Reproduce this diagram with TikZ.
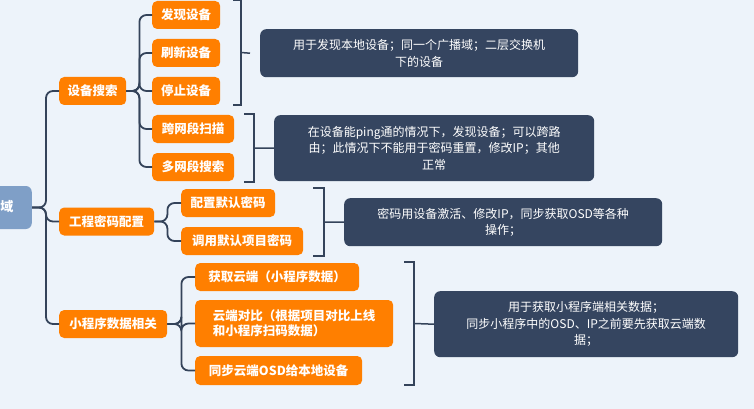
\documentclass[tikz,border=0pt]{standalone}
\usepackage{fontspec}
\setmainfont{Noto Sans CJK SC}
\begin{document}
\begin{tikzpicture}[x=1pt,y=-1pt,
  conn/.style={draw=lineC,line width=1.8pt,rounded corners=7pt},
  obox/.style={fill=orangeC,rounded corners=5pt,text=white,font=\fontsize{12.5}{15}\selectfont\bfseries,anchor=west,minimum height=28pt,inner xsep=5pt,align=left},
  dbox/.style={fill=darkC,rounded corners=6pt,text=white,font=\fontsize{12}{16.5}\selectfont,align=center,inner sep=0pt},
  brk/.style={draw=lineC,line width=1.5pt}]
\definecolor{bgC}{HTML}{EDF3FA}
\definecolor{orangeC}{HTML}{FF7F00}
\definecolor{darkC}{HTML}{354560}
\definecolor{lineC}{HTML}{34435A}
\definecolor{rootC}{HTML}{7F9FC7}
\fill[bgC] (0,0) rectangle (754,409);
\useasboundingbox (0,0) rectangle (754,409);
\begin{scope}
\clip (0,0) rectangle (754,409);
\node[fill=rootC,rounded corners=6pt,minimum width=72pt,minimum height=43pt,anchor=east] (root) at (32,207.5) {};
\node[text=white,font=\fontsize{13}{15}\selectfont\bfseries] (roott) at (7,207) {域};
\end{scope}
% level 1
\node[obox,minimum width=67pt] (a) at (59,91) {设备搜索};
\node[obox,minimum width=95pt] (b) at (59,221.5) {工程密码配置};
\node[obox,minimum width=108pt] (c) at (59,324) {小程序数据相关};
% level 2
\node[obox,minimum width=68pt] (a1) at (152,15) {发现设备};
\node[obox,minimum width=68pt] (a2) at (152,53) {刷新设备};
\node[obox,minimum width=68pt] (a3) at (152,91) {停止设备};
\node[obox,minimum width=82pt] (a4) at (152,129) {跨网段扫描};
\node[obox,minimum width=82pt] (a5) at (152,167) {多网段搜索};
\node[obox,minimum width=94pt] (b1) at (181,203) {配置默认密码};
\node[obox,minimum width=122pt] (b2) at (181,241) {调用默认项目密码};
\node[obox,minimum width=164pt] (c1) at (195,277) {获取云端（小程序数据）};
\node[obox,minimum width=198pt,minimum height=47pt] (c2) at (195,323.5) {云端对比（根据项目对比上线\\和小程序扫码数据）};
\node[obox,minimum width=167pt,minimum height=29pt] (c3) at (195,370.5) {同步云端OSD给本地设备};
% connectors
\foreach \ch in {a,b,c} \draw[conn] (root.east) -- ++(14,0) |- (\ch.west);
\foreach \ch in {a1,a2,a3,a4,a5} \draw[conn] (a.east) -- ++(13,0) |- (\ch.west);
\foreach \ch in {b1,b2} \draw[conn] (b.east) -- ++(13,0) |- (\ch.west);
\foreach \ch in {c1,c2,c3} \draw[conn] (c.east) -- ++(14,0) |- (\ch.west);
% notes
\node[dbox,minimum width=318pt,minimum height=48pt,anchor=north west] (n1) at (260,29) {用于发现本地设备；同一个广播域；二层交换机\\下的设备};
\node[dbox,minimum width=320pt,minimum height=66pt,anchor=north west] (n2) at (274,115) {在设备能ping通的情况下，发现设备；可以跨路\\由；此情况下不能用于密码重置，修改IP；其他\\正常};
\node[dbox,minimum width=318pt,minimum height=48pt,anchor=north west] (n3) at (344,198) {密码用设备激活、修改IP，同步获取OSD等各种\\操作；};
\node[dbox,minimum width=304pt,minimum height=66pt,anchor=north west] (n4) at (434,291) {用于获取小程序端相关数据；\\同步小程序中的OSD、IP之前要先获取云端数\\据；};
% brackets
\draw[brk] (233,0) -- (241,0) -- (241,105) -- (233,105);
\draw[brk] (241,52.5) -- (n1.west -| 250,0) ;
\draw[brk] (244,114) -- (254,114) -- (254,182) -- (244,182);
\coordinate (k2) at (254,148);
\draw[brk] (k2) -- (n2.west);
\draw[brk] (313,188) -- (324,188) -- (324,256) -- (313,256);
\coordinate (k3) at (324,222);
\draw[brk] (k3) -- (n3.west);
\draw[brk] (404,262) -- (414,262) -- (414,385) -- (404,385);
\coordinate (k4) at (414,323.5);
\draw[brk] (k4) -- (n4.west);
\end{tikzpicture}
\end{document}
